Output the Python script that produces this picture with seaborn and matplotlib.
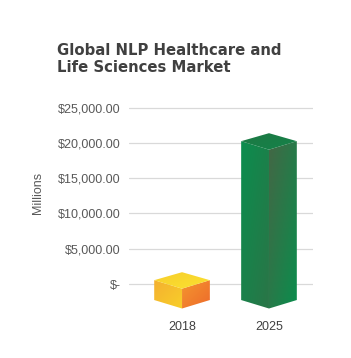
import numpy as np
import pandas as pd
import matplotlib
matplotlib.use("Agg")
import matplotlib.pyplot as plt
import seaborn as sns
from matplotlib.patches import Polygon
from matplotlib.colors import to_rgb

# ---- data ----
years = ["2018", "2025"]
market_millions = [2500, 20000]
ytick_values = [0, 5000, 10000, 15000, 20000, 25000]
ytick_labels = ["$-", "$5,000.00", "$10,000.00", "$15,000.00", "$20,000.00", "$25,000.00"]
title_text = "Global NLP Healthcare and\nLife Sciences Market"
ylabel_text = "Millions"

# gradient colours per face (start -> end)
face_colors = {
    "2018": {"left": ("#f4b030", "#f8cf2a"), "right": ("#f4962f", "#ee6a2b"), "top": ("#f7cd2b", "#fbe331")},
    "2025": {"left": ("#0b8d4e", "#2a7547"), "right": ("#436745", "#0b8d4d"), "top": ("#1e7944", "#148249")},
}

sns.set_theme(style="white")
plt.rcParams["font.family"] = ["Liberation Sans", "DejaVu Sans"]

fig = plt.figure(figsize=(3.51, 3.58), dpi=100)
ax = fig.add_axes([0.3675, 0.1277, 0.5242, 0.5759])

df = pd.DataFrame({"year": years, "value": market_millions})
sns.barplot(data=df, x="year", y="value", ax=ax, width=0.64, errorbar=None, color="#0b8d4e")

# 3D box geometry (perspective of the original chart)
persp = 1.125
base = -2265
dy_front = 1200
dy_back = 1130


def gradient_face(ax, verts, c0, c1, z):
    poly = Polygon(verts, closed=True, facecolor="none", edgecolor="none")
    ax.add_patch(poly)
    xs = [v[0] for v in verts]
    ys = [v[1] for v in verts]
    n = 64
    u = np.linspace(0, 1, n)
    U, V = np.meshgrid(u, u)  # V: 0 bottom -> 1 top (origin lower)
    t = (U + (1 - V)) / 2
    a = np.array(to_rgb(c0))
    b = np.array(to_rgb(c1))
    img = a[None, None, :] * (1 - t[..., None]) + b[None, None, :] * t[..., None]
    im = ax.imshow(img, extent=(min(xs), max(xs), min(ys), max(ys)), origin="lower",
                   aspect="auto", interpolation="bilinear", zorder=z)
    im.set_clip_path(poly)


for p, yr in zip(ax.patches, years):
    p.set_visible(False)
    x0, w, v = p.get_x(), p.get_width(), p.get_height()
    xc, x1 = x0 + w / 2, x0 + w
    top = base + v * persp
    cols = face_colors[yr]
    left = [(x0, base), (xc, base - dy_front), (xc, top - dy_front), (x0, top)]
    right = [(xc, base - dy_front), (x1, base), (x1, top), (xc, top - dy_front)]
    topf = [(x0, top), (xc, top - dy_front), (x1, top), (xc, top + dy_back)]
    gradient_face(ax, left, *cols["left"], 3)
    gradient_face(ax, right, *cols["right"], 3)
    gradient_face(ax, topf, *cols["top"], 4)

ax.set_xlim(-0.61, 1.506)
ax.set_ylim(-4000, 25200)
ax.set_yticks(ytick_values)
ax.set_yticklabels(ytick_labels)
ax.yaxis.grid(True, color="#d9d9d9", linewidth=0.9)
ax.xaxis.grid(False)
ax.set_axisbelow(True)
sns.despine(ax=ax, left=True, bottom=True)
ax.tick_params(axis="both", length=0, labelsize=9)
ax.tick_params(axis="y", pad=6, labelcolor="#595959")
ax.tick_params(axis="x", pad=6, labelcolor="#404040")
ax.set_xlabel("")
ax.set_ylabel(ylabel_text, fontsize=9, color="#595959")
ax.yaxis.set_label_coords(-0.46, 0.578)

fig.text(57 / 351, 1 - 43 / 358, title_text, ha="left", va="top", fontsize=10.7,
         fontweight="bold", color="#404040", linespacing=1.18, family=["DejaVu Sans"])

fig.savefig("out.png", dpi=100, facecolor="white")
